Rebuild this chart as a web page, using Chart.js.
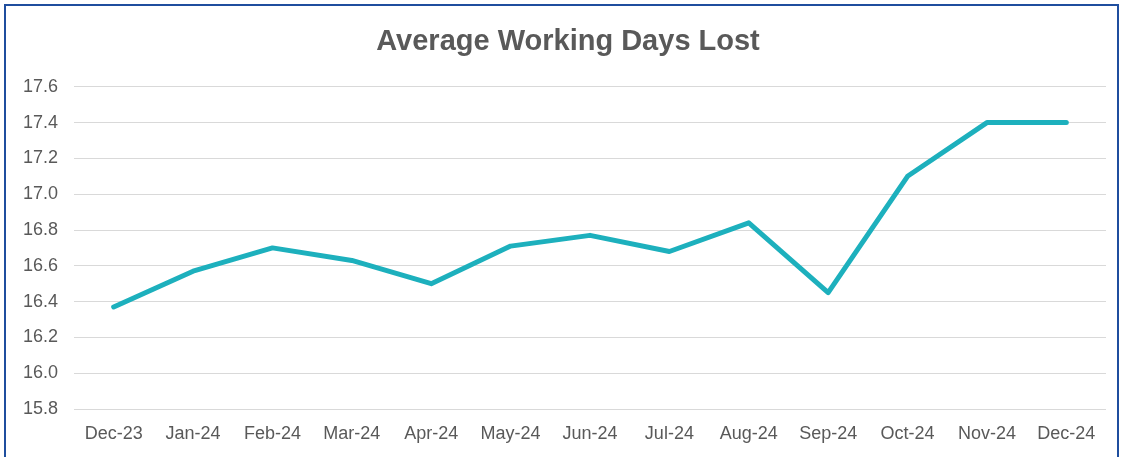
<!DOCTYPE html>
<html>
<head>
<meta charset="utf-8">
<script src="https://cdn.jsdelivr.net/npm/chart.js@4"></script>
<style>
  html, body { margin: 0; padding: 0; background: #fff; overflow: hidden; }
  #wrap { position: absolute; left: 0; top: 0; width: 1127px; height: 457px; }
  #frame {
    position: absolute; left: 4px; top: 4px; width: 1111px; height: 470px;
    border: 2px solid #1f4e9e; pointer-events: none;
  }
</style>
</head>
<body>
<div id="wrap">
  <canvas id="chart" width="1127" height="457"></canvas>
  <div id="frame"></div>
</div>
<script>
const months = ["Dec-23", "Jan-24", "Feb-24", "Mar-24", "Apr-24", "May-24", "Jun-24",
                "Jul-24", "Aug-24", "Sep-24", "Oct-24", "Nov-24", "Dec-24"];
const daysLost = [16.37, 16.57, 16.70, 16.63, 16.50, 16.71, 16.77,
                  16.68, 16.84, 16.45, 17.10, 17.40, 17.40];
const yMin = 15.8;
const yMax = 17.6;
const yStep = 0.2;

const textColor = "#595959";

// nudge the title box so its centre sits a bit right, like the original
const titleShift = {
  id: "titleShift",
  afterLayout(chart) {
    if (chart.titleBlock) chart.titleBlock.left = 30;
  }
};

new Chart(document.getElementById("chart").getContext("2d"), {
  type: "line",
  data: {
    labels: months,
    datasets: [{
      label: "Average Working Days Lost",
      data: daysLost,
      borderColor: "#1db0bd",
      borderWidth: 5,
      pointRadius: 0,
      tension: 0,
      borderCapStyle: "round",
      borderJoinStyle: "round"
    }]
  },
  options: {
    responsive: false,
    animation: false,
    layout: { padding: { top: 25, right: 21, left: 0, bottom: 0 } },
    plugins: {
      legend: { display: false },
      tooltip: { enabled: false },
      title: {
        display: true,
        text: "Average Working Days Lost",
        color: textColor,
        font: { family: "Liberation Sans, Arial, sans-serif", size: 29, weight: "bold" },
        padding: { top: 0, bottom: 27 }
      }
    },
    scales: {
      x: {
        offset: true,
        grid: { display: false, drawTicks: false },
        border: { display: false },
        ticks: {
          color: textColor,
          padding: 14,
          maxRotation: 0,
          font: { family: "Liberation Sans, Arial, sans-serif", size: 18 }
        },
        afterFit: s => { s.height = 48; }
      },
      y: {
        min: yMin,
        max: yMax,
        grid: { color: "#d9d9d9", lineWidth: 1, drawTicks: false },
        border: { display: false },
        ticks: {
          stepSize: yStep,
          color: textColor,
          padding: 16,
          font: { family: "Liberation Sans, Arial, sans-serif", size: 18 },
          callback: v => v.toFixed(1)
        },
        afterFit: s => { s.width = 74; }
      }
    }
  },
  plugins: [titleShift]
});
</script>
</body>
</html>
